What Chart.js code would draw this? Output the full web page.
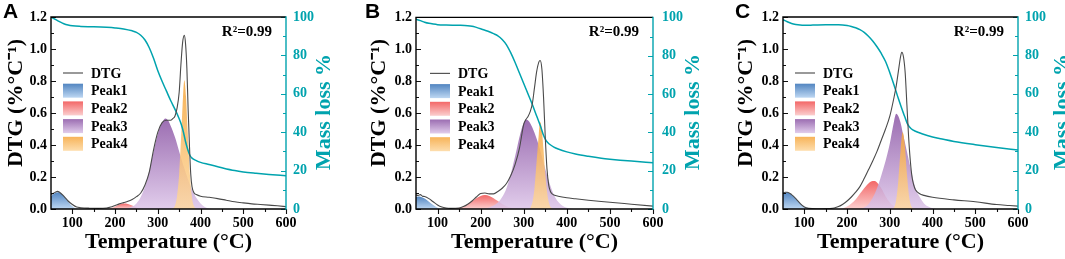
<!DOCTYPE html>
<html><head><meta charset="utf-8">
<script src="https://cdn.jsdelivr.net/npm/chart.js@4.4.1/dist/chart.umd.min.js"></script>
<style>
html,body{margin:0;padding:0;background:#fff;}
#wrap{position:relative;width:1065px;height:259px;overflow:hidden;background:#fff;}
.pane{position:absolute;top:0;width:355px;height:259px;}
</style></head><body>
<div id="wrap">
<div class="pane" style="left:0px"><canvas id="cA" width="355" height="259"></canvas></div>
<div class="pane" style="left:355px"><canvas id="cB" width="355" height="259"></canvas></div>
<div class="pane" style="left:710px"><canvas id="cC" width="355" height="259"></canvas></div>
</div>
<script>
// ---------------- DATA ----------------
const panelLetters = ['A', 'B', 'C'];
const seriesNames = ['DTG', 'Peak1', 'Peak2', 'Peak3', 'Peak4'];
const massName = 'Mass loss';
const xTicks = [100, 200, 300, 400, 500, 600];
const xTitle = 'Temperature (°C)';
const yTitle = 'DTG (%°C⁻¹)';
const y1Title = 'Mass loss %';
const fitText = 'R²=0.99';

// Panel A  [temperature °C, value]
const A_DTG = [[50,0.09],[60,0.105],[65,0.11],[70,0.105],[80,0.08],[90,0.05],[100,0.028],[110,0.012],[120,0.008],[140,0.005],[160,0.004],[180,0.006],[190,0.012],[200,0.022],[210,0.032],[220,0.04],[230,0.048],[240,0.06],[250,0.077],[260,0.1],[270,0.15],[280,0.23],[290,0.37],[300,0.48],[310,0.54],[320,0.555],[330,0.555],[335,0.565],[340,0.58],[345,0.63],[350,0.73],[354,0.9],[358,1.04],[362,1.085],[365,1.03],[368,0.88],[371,0.62],[374,0.4],[377,0.22],[380,0.14],[385,0.1],[390,0.09],[400,0.08],[420,0.073],[440,0.065],[460,0.055],[480,0.045],[500,0.038],[520,0.032],[540,0.028],[560,0.024],[580,0.02],[600,0.015]];
const A_MASS = [[50,100],[60,98.8],[70,97.6],[80,96.5],[90,95.8],[100,95.4],[120,95.1],[150,94.9],[180,94.6],[200,94.3],[220,93.8],[240,92.8],[250,92],[260,90.5],[270,88],[280,84],[290,78.5],[300,72],[310,66.5],[320,61.5],[330,56.5],[340,52],[350,47],[355,44],[360,40],[365,35],[370,31],[375,28],[380,26.5],[390,25.2],[400,24.3],[420,23.2],[450,21.5],[480,20],[500,19.3],[530,18.6],[560,18],[600,17.3]];
const A_P1 = [[50,0.08],[55,0.092],[60,0.1],[67,0.105],[75,0.095],[85,0.065],[95,0.03],[105,0.008],[115,0]];
const A_P2 = [[180,0],[190,0.005],[200,0.015],[210,0.028],[220,0.035],[230,0.032],[240,0.022],[250,0.01],[260,0.003],[270,0]];
const A_P3 = [[220,0],[230,0.005],[240,0.015],[250,0.035],[260,0.075],[270,0.14],[280,0.24],[290,0.36],[300,0.47],[310,0.54],[318,0.565],[325,0.55],[330,0.52],[340,0.45],[350,0.36],[360,0.27],[370,0.19],[380,0.12],[390,0.07],[400,0.035],[410,0.012],[420,0.003],[430,0]];
const A_P4 = [[332,0],[340,0.02],[345,0.08],[350,0.22],[355,0.48],[358,0.65],[362,0.805],[366,0.7],[370,0.48],[375,0.22],[380,0.07],[385,0.015],[390,0]];

// Panel B
const B_DTG = [[50,0.088],[55,0.085],[60,0.09],[65,0.08],[70,0.078],[80,0.065],[90,0.045],[100,0.025],[110,0.012],[120,0.006],[130,0.004],[150,0.006],[160,0.015],[170,0.03],[180,0.05],[190,0.075],[200,0.097],[210,0.1],[220,0.095],[230,0.095],[240,0.11],[250,0.13],[260,0.16],[270,0.21],[280,0.28],[290,0.38],[300,0.53],[305,0.56],[310,0.58],[315,0.61],[320,0.66],[325,0.76],[330,0.86],[335,0.92],[338,0.93],[342,0.88],[346,0.7],[350,0.45],[354,0.25],[358,0.15],[362,0.11],[366,0.095],[370,0.088],[380,0.08],[400,0.07],[420,0.064],[450,0.055],[480,0.047],[500,0.042],[550,0.03],[600,0.018]];
const B_MASS = [[50,99],[60,98.3],[70,97.5],[80,96.9],[90,96.5],[100,96.2],[120,96],[150,95.9],[170,95.7],[180,95.4],[190,94.8],[200,94.1],[210,93.3],[220,92.5],[230,91.5],[240,90.4],[250,88.5],[260,85.7],[270,81.5],[280,76.5],[290,71],[300,65.5],[310,60],[320,54.5],[330,48.5],[340,42.5],[345,39],[350,36.5],[355,34.8],[360,33.8],[370,32.3],[380,31.3],[400,29.8],[420,28.7],[450,27.5],[480,26.5],[500,26],[550,25],[600,24.2]];
const B_P1 = [[50,0.075],[55,0.078],[60,0.077],[70,0.065],[80,0.045],[90,0.025],[100,0.008],[110,0]];
const B_P2 = [[130,0],[140,0.003],[150,0.008],[160,0.018],[170,0.032],[180,0.05],[190,0.068],[200,0.082],[210,0.087],[220,0.082],[230,0.068],[240,0.05],[250,0.032],[260,0.018],[270,0.008],[280,0.003],[290,0]];
const B_P3 = [[200,0],[220,0.01],[240,0.04],[250,0.075],[260,0.13],[270,0.22],[280,0.33],[290,0.45],[300,0.54],[306,0.56],[312,0.55],[320,0.51],[330,0.44],[340,0.35],[350,0.25],[360,0.16],[370,0.09],[380,0.045],[390,0.02],[400,0.008],[410,0.002],[420,0]];
const B_P4 = [[315,0.005],[320,0.04],[325,0.13],[330,0.3],[335,0.47],[338,0.545],[342,0.5],[346,0.37],[350,0.22],[355,0.09],[360,0.025],[365,0.005],[370,0]];

// Panel C
const C_DTG = [[50,0.1],[55,0.105],[60,0.105],[70,0.09],[80,0.065],[90,0.035],[100,0.012],[110,0.004],[130,0.002],[160,0.003],[170,0.006],[180,0.015],[190,0.03],[200,0.05],[210,0.075],[220,0.105],[230,0.14],[240,0.19],[250,0.245],[260,0.3],[270,0.36],[280,0.43],[290,0.5],[300,0.58],[310,0.7],[315,0.77],[320,0.86],[325,0.95],[328,0.98],[332,0.95],[336,0.85],[340,0.65],[344,0.45],[348,0.3],[352,0.2],[356,0.15],[360,0.12],[370,0.095],[380,0.085],[400,0.073],[450,0.057],[500,0.045],[550,0.028],[580,0.022],[600,0.018]];
const C_MASS = [[50,98.6],[60,97.5],[70,96.6],[80,96.1],[90,95.8],[100,95.7],[120,95.8],[150,96],[180,96],[200,95.6],[210,95.1],[220,94.4],[230,93.4],[240,92],[250,90],[260,87.5],[270,84.5],[280,81],[290,76.8],[300,71],[310,64.5],[320,57.5],[330,51],[335,48],[340,45],[345,43],[350,41.8],[360,40.5],[375,39.2],[400,37.5],[425,36.3],[450,35.2],[500,33.5],[550,32],[600,30.7]];
const C_P1 = [[50,0.1],[55,0.105],[60,0.104],[70,0.09],[80,0.065],[90,0.038],[100,0.016],[110,0.004],[115,0]];
const C_P2 = [[180,0],[190,0.005],[200,0.015],[210,0.035],[220,0.06],[230,0.095],[240,0.13],[250,0.16],[260,0.175],[265,0.175],[270,0.165],[280,0.13],[290,0.08],[300,0.04],[310,0.015],[320,0.004],[330,0]];
const C_P3 = [[230,0],[240,0.01],[250,0.03],[260,0.07],[270,0.13],[280,0.21],[290,0.3],[300,0.41],[310,0.55],[315,0.595],[320,0.58],[325,0.54],[330,0.48],[340,0.36],[350,0.24],[360,0.13],[370,0.075],[380,0.035],[390,0.015],[400,0.004],[410,0]];
const C_P4 = [[305,0],[310,0.01],[315,0.06],[320,0.18],[325,0.36],[330,0.48],[335,0.4],[340,0.22],[345,0.08],[350,0.02],[355,0.003],[360,0]];

// ---------------- STYLE ----------------
const TEAL = '#00a3ae';
const SERIF = "'Times New Roman', 'Liberation Serif', serif";
const SANS = "Arial, 'Liberation Sans', sans-serif";
const peakColors = [
  ['rgba(52,112,182,0.85)', 'rgba(178,208,240,0.85)'],
  ['rgba(240,70,70,0.82)',  'rgba(250,196,196,0.82)'],
  ['rgba(138,84,164,0.85)', 'rgba(220,196,232,0.85)'],
  ['rgba(246,166,60,0.85)', 'rgba(253,216,160,0.85)']
];

const toXY = arr => arr.map(p => ({x: p[0], y: p[1]}));

function peakFill(i) {
  return ctx => {
    const chart = ctx.chart;
    const ys = chart.scales.y;
    const ds = chart.data.datasets[ctx.datasetIndex];
    if (!chart.chartArea || !ys) return peakColors[i][0];
    const maxV = Math.max(...ds.data.map(d => d.y));
    const y0 = ys.getPixelForValue(maxV), y1 = ys.getPixelForValue(0);
    const g = chart.ctx.createLinearGradient(0, y0, 0, y1);
    g.addColorStop(0, peakColors[i][0]);
    g.addColorStop(1, peakColors[i][1]);
    return g;
  };
}

const decor = {
  id: 'decor',
  afterDatasetsDraw(chart, args, o) {
    const c = chart.ctx, a = chart.chartArea;
    const xs = chart.scales.x, ys = chart.scales.y, yr = chart.scales.y1;
    c.save();
    // tick marks
    c.lineWidth = 1.1;
    c.strokeStyle = '#111';
    c.beginPath();
    for (let i = 0; i <= 12; i++) {
      const y = Math.round(ys.getPixelForValue(i * 0.1)) + 0.5;
      const len = i % 2 ? 3 : 5;
      c.moveTo(a.left, y); c.lineTo(a.left + len, y);
    }
    for (let t = 100; t <= 600; t += 50) {
      const x = Math.round(xs.getPixelForValue(t)) + 0.5;
      const len = t % 100 ? 3 : 5;
      c.moveTo(x, a.bottom); c.lineTo(x, a.bottom + len);
    }
    c.stroke();
    c.strokeStyle = TEAL;
    c.beginPath();
    for (let m = 0; m <= 100; m += 10) {
      const y = Math.round(yr.getPixelForValue(m)) + 0.5;
      const len = m % 20 ? 3 : 5;
      c.moveTo(a.right, y); c.lineTo(a.right - len, y);
    }
    c.stroke();
    // frame
    c.lineWidth = 1.4;
    c.strokeStyle = '#000';
    c.beginPath();
    c.moveTo(a.right, a.top); c.lineTo(a.left, a.top); c.lineTo(a.left, a.bottom); c.lineTo(a.right, a.bottom);
    c.stroke();
    c.strokeStyle = TEAL;
    c.beginPath(); c.moveTo(a.right, a.top - 0.7); c.lineTo(a.right, a.bottom + 0.7); c.stroke();

    // legend
    const lx = a.left + o.legendDX, ly = a.top + 56, step = 17.7;
    const dsets = chart.data.datasets;
    c.font = 'bold 14px ' + SERIF;
    c.textBaseline = 'middle';
    c.textAlign = 'left';
    seriesNames.forEach((name, k) => {
      const yy = ly + k * step;
      if (k === 0) {
        c.strokeStyle = '#555'; c.lineWidth = 1.2;
        c.beginPath(); c.moveTo(lx, yy); c.lineTo(lx + 20, yy); c.stroke();
      } else {
        const g = c.createLinearGradient(0, yy - 7, 0, yy + 7);
        g.addColorStop(0, peakColors[k - 1][0]);
        g.addColorStop(1, peakColors[k - 1][1]);
        c.fillStyle = g;
        c.fillRect(lx, yy - 7, 20, 14);
      }
      const ds = dsets.find(d => d.label === name);
      c.fillStyle = '#000';
      c.fillText(ds ? ds.label : name, lx + 28, yy + 1);
    });

    // R^2
    c.font = 'bold 15px ' + SERIF;
    c.textAlign = 'right';
    c.fillStyle = '#000';
    c.fillText(fitText, a.right - 14, a.top + 15);

    // axis titles
    c.font = 'bold 22px ' + SERIF;
    c.textAlign = 'center';
    c.fillStyle = '#000';
    c.fillText(xTitle, (a.left + a.right) / 2, 242);
    c.save();
    c.translate(o.yTitleX, 103);
    c.rotate(-Math.PI / 2);
    c.fillText(yTitle, 0, 0);
    c.restore();
    c.save();
    c.fillStyle = TEAL;
    c.translate(o.rTitleX, 112);
    c.rotate(-Math.PI / 2);
    c.fillText(y1Title, 0, 0);
    c.restore();

    // panel letter
    c.font = 'bold 21px ' + SANS;
    c.textAlign = 'left';
    c.textBaseline = 'alphabetic';
    c.fillStyle = '#000';
    c.fillText(o.letter, o.letterX, 18);
    c.restore();
  }
};

const panels = [
  {canvas: 'cA', dtg: A_DTG, mass: A_MASS, peaks: [A_P1, A_P2, A_P3, A_P4], leftW: 51, rightW: 69, rPad: 7, legendDX: 12, yTitleX: 16, rTitleX: 324, letterX: 3},
  {canvas: 'cB', dtg: B_DTG, mass: B_MASS, peaks: [B_P1, B_P2, B_P3, B_P4], leftW: 61, rightW: 57, rPad: 9, legendDX: 14, yTitleX: 24, rTitleX: 338, letterX: 10},
  {canvas: 'cC', dtg: C_DTG, mass: C_MASS, peaks: [C_P1, C_P2, C_P3, C_P4], leftW: 73, rightW: 47, rPad: 7, legendDX: 12, yTitleX: 36, rTitleX: 352, letterX: 25}
];

panels.forEach((p, idx) => {
  const datasets = [
    {label: seriesNames[0], data: toXY(p.dtg), yAxisID: 'y', borderColor: '#4a4a4a', borderWidth: 1.1, pointRadius: 0, fill: false, cubicInterpolationMode: 'monotone'},
    {label: massName, data: toXY(p.mass), yAxisID: 'y1', borderColor: TEAL, borderWidth: 1.5, pointRadius: 0, fill: false, cubicInterpolationMode: 'monotone'}
  ];
  for (let k = 3; k >= 0; k--) {
    datasets.push({label: seriesNames[k + 1], data: toXY(p.peaks[k]), yAxisID: 'y', borderWidth: 0, borderColor: 'rgba(0,0,0,0)', pointRadius: 0, fill: 'origin', backgroundColor: peakFill(k), cubicInterpolationMode: 'monotone'});
  }
  new Chart(document.getElementById(p.canvas), {
    type: 'line',
    data: {datasets},
    plugins: [decor],
    options: {
      responsive: false,
      animation: false,
      events: [],
      layout: {padding: {top: 17, left: 0, right: 0, bottom: 0}},
      plugins: {
        legend: {display: false},
        tooltip: {enabled: false},
        decor: {letter: panelLetters[idx], legendDX: p.legendDX, yTitleX: p.yTitleX, rTitleX: p.rTitleX, letterX: p.letterX}
      },
      scales: {
        x: {
          type: 'linear', min: 50, max: 600, position: 'bottom',
          grid: {display: false, drawTicks: false}, border: {display: false},
          ticks: {font: {family: SERIF, size: 14, weight: 'bold'}, color: '#000', padding: 6, maxRotation: 0, autoSkip: false},
          afterBuildTicks: s => { s.ticks = xTicks.map(v => ({value: v})); },
          afterFit: s => { s.height = 50; }
        },
        y: {
          type: 'linear', min: 0, max: 1.2, position: 'left',
          grid: {display: false, drawTicks: false}, border: {display: false},
          ticks: {stepSize: 0.2, font: {family: SERIF, size: 14, weight: 'bold'}, color: '#000', padding: 4, callback: v => Number(v).toFixed(1)},
          afterFit: s => { s.width = p.leftW; }
        },
        y1: {
          type: 'linear', min: 0, max: 100, position: 'right',
          grid: {display: false, drawTicks: false}, border: {display: false},
          ticks: {stepSize: 20, font: {family: SERIF, size: 14, weight: 'bold'}, color: TEAL, padding: p.rPad},
          afterFit: s => { s.width = p.rightW; }
        }
      }
    }
  });
});
</script>
</body></html>
